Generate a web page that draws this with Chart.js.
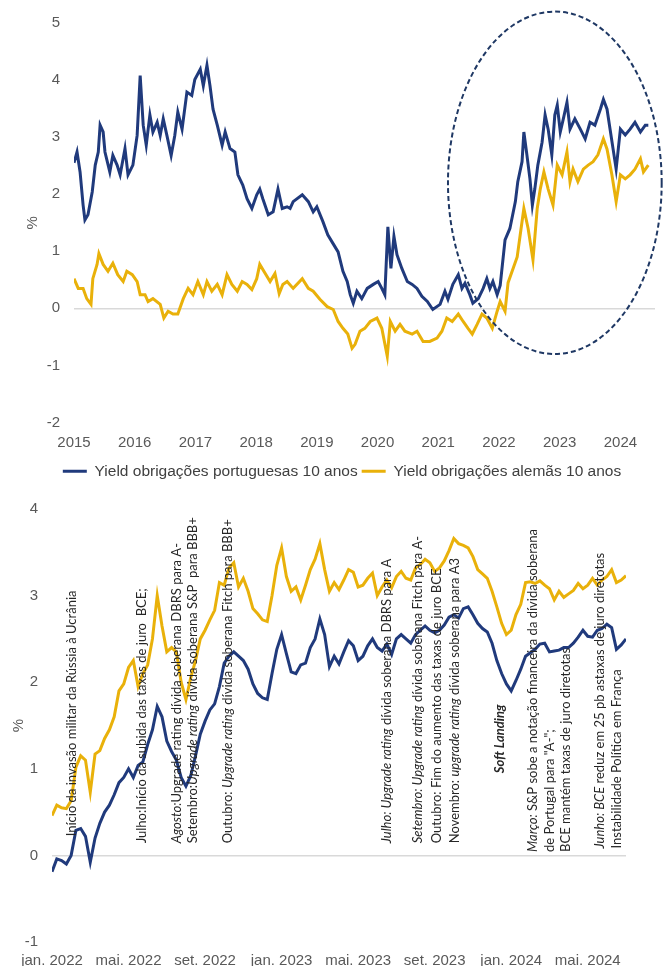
<!DOCTYPE html>
<html lang="pt">
<head>
<meta charset="utf-8">
<title>Yields obrigações 10 anos</title>
<script src="https://cdn.jsdelivr.net/npm/chart.js@4.4.1/dist/chart.umd.min.js"></script>
<style>
  html, body { margin: 0; padding: 0; background: #fff; }
  #wrap { position: relative; width: 667px; height: 966px; overflow: hidden; }
  canvas { position: absolute; left: 0; }
  #topChart { top: 0; }
  #zoomChart { top: 485px; }
</style>
</head>
<body>
<div id="wrap">
  <canvas id="topChart" width="667" height="489"></canvas>
  <canvas id="zoomChart" width="667" height="481"></canvas>
</div>
<script>
// --- 1. DATA ---

// Top chart: 10y yields 2015 - 2024, dates as decimal years
const ptDates = [2015.00, 2015.05, 2015.10, 2015.15, 2015.18, 2015.23, 2015.30, 2015.35, 2015.40, 2015.43,
  2015.48, 2015.51, 2015.59, 2015.64, 2015.71, 2015.76, 2015.84, 2015.89, 2015.97, 2016.04,
  2016.09, 2016.14, 2016.19, 2016.25, 2016.30, 2016.37, 2016.42, 2016.47, 2016.53, 2016.60,
  2016.66, 2016.71, 2016.78, 2016.86, 2016.94, 2016.99, 2017.08, 2017.13, 2017.19, 2017.24,
  2017.29, 2017.36, 2017.44, 2017.49, 2017.57, 2017.65, 2017.70, 2017.78, 2017.85, 2017.93,
  2018.01, 2018.06, 2018.11, 2018.20, 2018.28, 2018.36, 2018.43, 2018.51, 2018.56, 2018.61,
  2018.76, 2018.86, 2018.94, 2019.00, 2019.10, 2019.18, 2019.27, 2019.35, 2019.43, 2019.50,
  2019.55, 2019.60, 2019.66, 2019.74, 2019.83, 2019.93, 2020.01, 2020.07, 2020.12, 2020.17,
  2020.22, 2020.27, 2020.32, 2020.40, 2020.49, 2020.57, 2020.65, 2020.73, 2020.82, 2020.91,
  2021.03, 2021.11, 2021.16, 2021.24, 2021.33, 2021.39, 2021.44, 2021.52, 2021.57, 2021.66,
  2021.74, 2021.80, 2021.85, 2021.90, 2021.97, 2022.02, 2022.10, 2022.18, 2022.27, 2022.31,
  2022.38, 2022.41, 2022.46, 2022.51, 2022.55, 2022.59, 2022.64, 2022.71, 2022.76, 2022.81,
  2022.87, 2022.92, 2022.96, 2023.01, 2023.06, 2023.12, 2023.17, 2023.25, 2023.34, 2023.42,
  2023.50, 2023.58, 2023.67, 2023.72, 2023.78, 2023.83, 2023.88, 2023.93, 2024.00, 2024.08,
  2024.16, 2024.24, 2024.33, 2024.41, 2024.46];
const ptYields = [2.55, 2.74, 2.39, 1.81, 1.55, 1.64, 2.04, 2.51, 2.74, 3.21,
  3.09, 2.74, 2.39, 2.68, 2.51, 2.34, 2.80, 2.34, 2.51, 3.03,
  4.08, 3.21, 2.86, 3.39, 3.09, 3.26, 3.03, 3.32, 3.03, 2.68,
  3.03, 3.44, 3.14, 3.79, 3.73, 4.01, 4.19, 3.90, 4.26, 3.90,
  3.49, 3.21, 2.86, 3.09, 2.80, 2.74, 2.34, 2.16, 1.92, 1.75,
  1.99, 2.09, 1.92, 1.64, 1.69, 2.09, 1.75, 1.78, 1.75, 1.87,
  1.99, 1.87, 1.69, 1.78, 1.52, 1.29, 1.13, 0.99, 0.65, 0.47,
  0.24, 0.09, 0.30, 0.17, 0.35, 0.42, 0.47, 0.35, 0.24, 1.43,
  0.70, 1.26, 0.94, 0.70, 0.47, 0.42, 0.35, 0.21, 0.12, -0.02,
  0.07, 0.30, 0.16, 0.42, 0.59, 0.35, 0.44, 0.24, 0.09, 0.17,
  0.35, 0.52, 0.35, 0.47, 0.24, 0.40, 1.20, 1.40, 1.87, 2.22,
  2.57, 3.09, 2.69, 2.27, 1.81, 2.09, 2.51, 2.91, 3.39, 3.14,
  2.69, 3.39, 3.56, 3.09, 3.32, 3.61, 3.14, 3.32, 3.14, 2.97,
  3.26, 3.21, 3.49, 3.66, 3.49, 3.14, 2.79, 2.44, 3.14, 3.04,
  3.14, 3.26, 3.09, 3.21, 3.21];

const deDates = [2015.00, 2015.07, 2015.15, 2015.21, 2015.28, 2015.31, 2015.38, 2015.41, 2015.48, 2015.56,
  2015.64, 2015.72, 2015.81, 2015.87, 2015.96, 2016.04, 2016.09, 2016.17, 2016.22, 2016.30,
  2016.42, 2016.48, 2016.55, 2016.63, 2016.71, 2016.80, 2016.88, 2016.96, 2017.04, 2017.13,
  2017.19, 2017.27, 2017.36, 2017.44, 2017.52, 2017.60, 2017.69, 2017.77, 2017.85, 2017.93,
  2018.01, 2018.06, 2018.15, 2018.23, 2018.31, 2018.38, 2018.44, 2018.51, 2018.61, 2018.76,
  2018.86, 2018.94, 2019.05, 2019.17, 2019.27, 2019.35, 2019.43, 2019.51, 2019.58, 2019.63,
  2019.71, 2019.79, 2019.88, 2019.99, 2020.07, 2020.16, 2020.21, 2020.29, 2020.37, 2020.45,
  2020.57, 2020.65, 2020.75, 2020.86, 2020.98, 2021.06, 2021.14, 2021.23, 2021.33, 2021.41,
  2021.49, 2021.56, 2021.64, 2021.72, 2021.80, 2021.89, 2021.97, 2022.02, 2022.10, 2022.15,
  2022.30, 2022.35, 2022.41, 2022.48, 2022.56, 2022.63, 2022.68, 2022.74, 2022.81, 2022.89,
  2022.96, 2023.04, 2023.12, 2023.17, 2023.22, 2023.30, 2023.39, 2023.47, 2023.55, 2023.63,
  2023.72, 2023.78, 2023.86, 2023.93, 2024.00, 2024.08, 2024.16, 2024.24, 2024.33, 2024.38,
  2024.46];
const deYields = [0.52, 0.35, 0.35, 0.17, 0.07, 0.52, 0.77, 0.96, 0.77, 0.65,
  0.79, 0.59, 0.47, 0.65, 0.59, 0.47, 0.24, 0.24, 0.12, 0.17,
  0.07, -0.17, -0.05, -0.10, -0.10, 0.17, 0.35, 0.24, 0.47, 0.24,
  0.47, 0.30, 0.42, 0.24, 0.59, 0.42, 0.30, 0.47, 0.42, 0.33,
  0.52, 0.77, 0.61, 0.47, 0.61, 0.26, 0.42, 0.47, 0.35, 0.52,
  0.35, 0.30, 0.16, 0.03, -0.02, -0.23, -0.35, -0.45, -0.70, -0.63,
  -0.40, -0.35, -0.23, -0.17, -0.35, -0.84, -0.23, -0.40, -0.28, -0.40,
  -0.45, -0.40, -0.58, -0.58, -0.52, -0.40, -0.17, -0.23, -0.10, -0.23,
  -0.35, -0.45, -0.28, -0.10, -0.17, -0.35, -0.05, 0.12, -0.05, 0.45,
  0.90, 1.29, 1.75, 1.40, 0.85, 1.75, 2.09, 2.39, 2.09, 1.81,
  2.51, 2.34, 2.74, 2.22, 2.44, 2.22, 2.44, 2.51, 2.57, 2.69,
  2.97, 2.79, 2.34, 1.87, 2.34, 2.27, 2.34, 2.44, 2.62, 2.39,
  2.51];

const topYearTicks = ["2015", "2016", "2017", "2018", "2019", "2020", "2021", "2022", "2023", "2024"];

// Dashed focus ellipse on the top chart (decimal year, %)
const focusCenter = [2022.92, 2.2];
const focusRadius = [1.76, 3.0];

// Bottom chart: Jan 2022 - Jul 2024, one value every quarter month
const zoomStep = 0.25;
const zoomBlue = [-0.19, -0.04, -0.06, -0.10, 0.00, 0.29, 0.31, 0.22, -0.08, 0.20,
  0.37, 0.50, 0.58, 0.70, 0.84, 0.90, 1.00, 0.90, 1.04, 1.08,
  1.28, 1.45, 1.72, 1.60, 1.32, 1.20, 1.10, 0.90, 0.80, 0.92,
  1.15, 1.40, 1.55, 1.68, 1.75, 1.95, 2.22, 2.30, 2.35, 2.30,
  2.25, 2.15, 1.98, 1.87, 1.82, 1.80, 2.10, 2.38, 2.55, 2.33,
  2.12, 2.10, 2.20, 2.22, 2.40, 2.50, 2.73, 2.55, 2.18, 2.30,
  2.21, 2.35, 2.48, 2.42, 2.25, 2.30, 2.42, 2.50, 2.40, 2.36,
  2.44, 2.32, 2.50, 2.55, 2.50, 2.45, 2.55, 2.60, 2.65, 2.60,
  2.57, 2.60, 2.66, 2.75, 2.78, 2.74, 2.85, 2.87, 2.78, 2.68,
  2.62, 2.58, 2.45, 2.25, 2.10, 1.98, 1.90, 2.02, 2.15, 2.30,
  2.34, 2.38, 2.44, 2.45, 2.35, 2.36, 2.37, 2.40, 2.40, 2.45,
  2.52, 2.60, 2.53, 2.52, 2.60, 2.62, 2.67, 2.63, 2.38, 2.43,
  2.50];
const zoomGold = [0.46, 0.58, 0.55, 0.54, 0.63, 1.02, 1.15, 1.10, 0.73, 1.17,
  1.21, 1.35, 1.45, 1.60, 1.90, 1.98, 2.17, 2.25, 1.95, 2.10,
  2.20, 2.50, 3.00, 2.65, 2.35, 2.40, 2.35, 2.00, 1.80, 2.05,
  2.25, 2.50, 2.60, 2.72, 2.83, 3.15, 3.12, 3.32, 3.38, 3.10,
  3.20, 3.05, 2.85, 2.79, 2.72, 2.70, 3.00, 3.35, 3.55, 3.22,
  3.05, 3.10, 2.95, 3.12, 3.30, 3.42, 3.60, 3.30, 3.05, 3.15,
  3.07, 3.18, 3.30, 3.27, 3.10, 3.12, 3.20, 3.26, 3.00, 3.10,
  3.18, 3.09, 3.22, 3.28, 3.20, 3.18, 3.32, 3.36, 3.42, 3.38,
  3.28, 3.32, 3.40, 3.52, 3.66, 3.60, 3.58, 3.55, 3.45, 3.30,
  3.25, 3.20, 3.05, 2.87, 2.68, 2.55, 2.60, 2.78, 2.90, 3.15,
  3.16, 3.14, 3.17, 3.12, 3.08, 2.95, 3.05, 2.98, 3.02, 3.06,
  3.14, 3.08, 3.12, 3.20, 3.12, 3.18, 3.22, 3.30, 3.15, 3.18,
  3.23];
const zoomTicks = ["jan. 2022", "mai. 2022", "set. 2022", "jan. 2023", "mai. 2023", "set. 2023", "jan. 2024", "mai. 2024"];

// Events (month since jan. 2022, % level where the text starts, text; *italic*, **bold italic**)
const eventMonths = [1.05, 4.70, 6.53, 7.37, 9.20, 17.51, 19.13, 20.13, 21.07, 23.42, 25.14, 26.03, 26.87, 28.65, 29.54];
const eventBase = [0.22, 0.14, 0.14, 0.14, 0.14, 0.14, 0.14, 0.14, 0.14, 0.95, 0.04, 0.04, 0.04, 0.08, 0.08];
const eventTexts = [
  "Início da invasão militar da Rússia à Ucrânia",
  "Julho:Início da subida das taxas de juro  BCE;",
  "*Agosto:*Upgrade rating dívida soberana DBRS para A-",
  "Setembro:*Upgrade rating* dívida soberana S&P  para BBB+",
  "Outubro: *Upgrade rating* dívida soberana Fitch para BBB+",
  "*Julho: Upgrade rating* dívida soberana DBRS para A",
  "*Setembro: Upgrade rating* dívida soberana Fitch para A-",
  "Outubro: Fim do aumento das taxas de juro BCE",
  "Novembro: *upgrade rating* dívida soberana para A3",
  "**Soft Landing**",
  "*Março:* S&P sobe a notação financeira da dívida soberana",
  "de Portugal para \"A-\";",
  "BCE mantém taxas de juro diretotas",
  "*Junho: BCE* reduz em 25 pb astaxas de juro diretotas",
  "Instabilidade Política em França"
];

// --- 2. STYLE CONSTANTS ---
const BLUE = "#203a7c";
const GOLD = "#e9b10a";
const TICK_COLOR = "#595959";
const AXIS_FONT = { family: "'Liberation Sans', Arial, sans-serif", size: 15 };
const LEGEND_FONT = { family: "'Liberation Sans', Arial, sans-serif", size: 15.5 };
const NOTE_FAMILY = "Lato, 'Open Sans', sans-serif";
const NOTE_SIZE = 13;

// --- 3. Helpers ---
function toPoints(xs, ys) {
  return ys.map((v, i) => ({ x: xs[i], y: v }));
}

function zeroLineOnly(ctx) {
  return ctx.tick && ctx.tick.value === 0 ? "#d9d9d9" : "rgba(0,0,0,0)";
}

function splitMarkup(text) {
  return text.split(/(\*\*[^*]+\*\*|\*[^*]+\*)/).filter(s => s.length).map(s => {
    if (s.startsWith("**")) return { t: s.slice(2, -2), style: "italic bold" };
    if (s.startsWith("*")) return { t: s.slice(1, -1), style: "italic" };
    return { t: s, style: "normal" };
  });
}

// Dashed ellipse round the recent period
const focusPlugin = {
  id: "focusEllipse",
  afterDatasetsDraw(chart) {
    const { ctx, scales: { x, y } } = chart;
    const cx = x.getPixelForValue(focusCenter[0]);
    const cy = y.getPixelForValue(focusCenter[1]);
    const rx = Math.abs(x.getPixelForValue(focusCenter[0] + focusRadius[0]) - cx);
    const ry = Math.abs(y.getPixelForValue(focusCenter[1] + focusRadius[1]) - cy);
    ctx.save();
    ctx.strokeStyle = "#1f3864";
    ctx.lineWidth = 2;
    ctx.setLineDash([5, 3]);
    ctx.beginPath();
    ctx.ellipse(cx, cy, rx, ry, 0, 0, Math.PI * 2);
    ctx.stroke();
    ctx.restore();
  }
};

// Vertical event notes on the bottom chart
const eventsPlugin = {
  id: "eventNotes",
  afterDatasetsDraw(chart) {
    const { ctx, scales: { x, y } } = chart;
    eventTexts.forEach((text, i) => {
      const px = x.getPixelForValue(eventMonths[i]);
      const py = y.getPixelForValue(eventBase[i]);
      ctx.save();
      ctx.translate(px, py);
      ctx.rotate(-Math.PI / 2);
      ctx.textBaseline = "middle";
      ctx.textAlign = "left";
      ctx.fillStyle = "#262626";
      let cursor = 0;
      splitMarkup(text).forEach(seg => {
        ctx.font = `${seg.style} ${NOTE_SIZE}px ${NOTE_FAMILY}`;
        ctx.fillText(seg.t, cursor, 0);
        cursor += ctx.measureText(seg.t).width;
      });
      ctx.restore();
    });
  }
};

// --- 4. Top chart ---
new Chart(document.getElementById("topChart"), {
  type: "line",
  data: {
    datasets: [
      {
        label: "Yield obrigações portuguesas 10 anos",
        data: toPoints(ptDates, ptYields),
        borderColor: BLUE, backgroundColor: BLUE,
        borderWidth: 3, pointRadius: 0, tension: 0
      },
      {
        label: "Yield obrigações alemãs 10 anos",
        data: toPoints(deDates, deYields),
        borderColor: GOLD, backgroundColor: GOLD,
        borderWidth: 3, pointRadius: 0, tension: 0
      }
    ]
  },
  options: {
    responsive: false,
    animation: false,
    // left padding pushes the legend's centre to the right, the y axis keeps the plot at the same left edge
    layout: { padding: { top: 19, right: 12, left: 29, bottom: 0 } },
    plugins: {
      tooltip: { enabled: false },
      legend: {
        position: "bottom",
        labels: {
          usePointStyle: true, pointStyle: "line", pointStyleWidth: 24, boxHeight: 3,
          color: "#404040", font: LEGEND_FONT, padding: 4
        }
      }
    },
    scales: {
      x: {
        type: "linear", min: 2015, max: 2024.57,
        grid: { display: false, drawTicks: false },
        border: { display: false },
        ticks: {
          stepSize: 1, includeBounds: false, autoSkip: false, maxRotation: 0,
          color: TICK_COLOR, font: AXIS_FONT, padding: 11,
          callback: v => topYearTicks[Math.round(v) - 2015]
        },
        afterFit: s => { s.height = 37; }
      },
      y: {
        min: -2, max: 5,
        grid: { color: zeroLineOnly, drawTicks: false, lineWidth: 1.5 },
        border: { display: false },
        ticks: { stepSize: 1, color: TICK_COLOR, font: AXIS_FONT, padding: 14 },
        title: { display: true, text: "%", color: TICK_COLOR, font: AXIS_FONT, padding: { top: -5, bottom: 0 } },
        afterFit: s => { s.width = 45; }
      }
    }
  },
  plugins: [focusPlugin]
});

// --- 5. Bottom chart (2022 onwards) ---
const zoomX = zoomBlue.map((_, i) => i * zoomStep);

new Chart(document.getElementById("zoomChart"), {
  type: "line",
  data: {
    datasets: [
      {
        label: "Portugal",
        data: toPoints(zoomX, zoomBlue),
        borderColor: BLUE, borderWidth: 3, pointRadius: 0, tension: 0
      },
      {
        label: "Alemanha",
        data: toPoints(zoomX, zoomGold),
        borderColor: GOLD, borderWidth: 3, pointRadius: 0, tension: 0
      }
    ]
  },
  options: {
    responsive: false,
    animation: false,
    layout: { padding: { top: 24, right: 41, left: 0, bottom: 0 } },
    plugins: { legend: { display: false }, tooltip: { enabled: false } },
    scales: {
      x: {
        type: "linear", min: 0, max: 30,
        grid: { display: false, drawTicks: false },
        border: { display: false },
        ticks: {
          stepSize: 4, includeBounds: false, autoSkip: false, maxRotation: 0,
          color: TICK_COLOR, font: AXIS_FONT, padding: 10,
          callback: v => zoomTicks[Math.round(v / 4)]
        },
        afterFit: s => { s.height = 24; }
      },
      y: {
        min: -1, max: 4,
        grid: { color: zeroLineOnly, drawTicks: false, lineWidth: 1.5 },
        border: { display: false },
        ticks: { stepSize: 1, color: TICK_COLOR, font: AXIS_FONT, padding: 14 },
        title: { display: true, text: "%", color: TICK_COLOR, font: AXIS_FONT, padding: { top: 10, bottom: 0 } },
        afterFit: s => { s.width = 52; }
      }
    }
  },
  plugins: [eventsPlugin]
});
</script>
</body>
</html>
